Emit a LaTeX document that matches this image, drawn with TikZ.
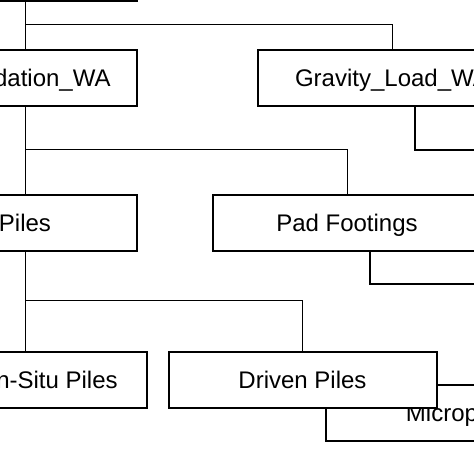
\documentclass[tikz,border=0pt]{standalone}
\usepackage{fontspec}
\setmainfont{Liberation Sans}
\usetikzlibrary{positioning}

\tikzset{
  box/.style={draw, line width=2pt, fill=white, minimum width=268pt, minimum height=56pt,
    inner sep=0pt, text height=17pt, text depth=0pt, font=\fontsize{24}{28}\selectfont},
  link/.style={draw, line width=0.8pt}
}

\begin{document}
\begin{tikzpicture}[x=1pt,y=1pt,yscale=-1,xscale=1]
\useasboundingbox (0,0) rectangle (474,474);
\clip (0,0) rectangle (474,474);

% boxes lying behind
\node[box] (gravnext) at (549,122) {};
\node[box] (padnext) at (504,256) {};
\node[box] (micro) at (460,413) {Micropiles};

% top level
\node[box, minimum width=224pt] (root) at (25,-27.5) {};
\node[box, minimum width=224pt] (found) at (25,78) {Foundation\_WA};
\node[box] (grav) at (392,78) {Gravity\_Load\_WA};

% second level
\node[box, minimum width=224pt] (piles) at (25,222.5) {Piles};
\node[box] (pad) at (347,222.5) {Pad Footings};

% third level
\node[box, minimum width=244pt] (insitu) at (25,379.5) {Cast-In-Situ Piles};
\node[box] (driven) at (302.5,379.5) {Driven Piles};

% connectors
\draw[link] (root.south) -- (found.north);
\draw[link] (found.north) ++(0,-25) -| (grav.north);
\draw[link] (found.south) -- (piles.north);
\draw[link] (piles.north) ++(0,-44) -| (pad.north);
\draw[link] (piles.south) -- (insitu.north);
\draw[link] (insitu.north) ++(0,-50) -| (driven.north);

\end{tikzpicture}
\end{document}
